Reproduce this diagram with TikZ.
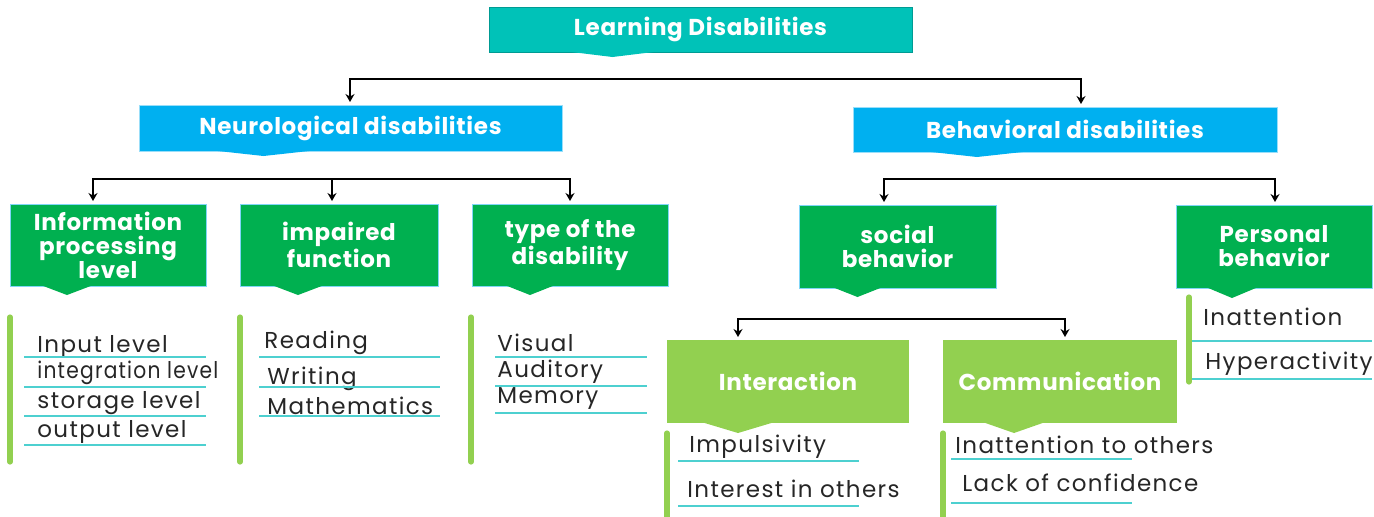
\documentclass[tikz,border=0pt]{standalone}
\usepackage{fontspec}
\setmainfont{Poppins}
\usetikzlibrary{arrows.meta, positioning, calc}

\definecolor{learnteal}{RGB}{0,194,184}
\definecolor{branchblue}{RGB}{0,176,240}
\definecolor{groupgreen}{RGB}{0,176,80}
\definecolor{subgreen}{RGB}{146,208,80}
\definecolor{ruleline}{RGB}{77,208,208}
\definecolor{itemgrey}{RGB}{38,38,38}

% pointer under a box: node, apex offset, half width, depth, colour
\newcommand{\boxtip}[5]{%
  \fill[#5] ($(#1.south)+(#2-#3,-0.5)$) -- ($(#1.south)+(#2,#4)$) -- ($(#1.south)+(#2+#3,-0.5)$) -- cycle;}

\begin{document}
\begin{tikzpicture}[x=0.5pt, y=-0.5pt]
    % --- Style Definitions ---
    \tikzset{
        box text/.style={
            text=white,
            font=\bfseries\fontsize{11.5}{12}\selectfont\addfontfeature{LetterSpace=3},
            align=center,
            inner sep=0pt,
            outer sep=0pt
        },
        title box/.style={box text, fill=learnteal, draw=learnteal!80!black, thin},
        branch box/.style={box text, fill=branchblue, draw=cyan!40, thin},
        group box/.style={box text, fill=groupgreen, draw=cyan!50, thin},
        sub box/.style={box text, fill=subgreen},
        item text/.style={
            anchor=base west,
            inner sep=0pt,
            text=itemgrey,
            font=\fontsize{11.5}{12}\selectfont\addfontfeature{LetterSpace=6}
        },
        item rule/.style={draw=ruleline, line width=0.8pt},
        side bar/.style={draw=subgreen, line width=2.6pt, line cap=round},
        link line/.style={
            draw=black,
            line width=1pt,
            >={Stealth[length=4pt, width=4.5pt]},
            shorten <=1.5pt,
            shorten >=1.5pt
        }
    }

    \useasboundingbox (0,0) rectangle (1374,516);

    % ==========================================
    % BOXES
    % ==========================================
    \node[title box, minimum width=211.5pt, minimum height=22.5pt] (learn_box) at (700.5,29.5) {Learning Disabilities};

    \node[branch box, minimum width=211.5pt, minimum height=23pt] (neuro_box) at (350.5,128) {Neurological disabilities};
    \node[branch box, minimum width=212pt, minimum height=22.5pt] (behav_box) at (1065,129.5) {Behavioral disabilities};

    \node[group box, minimum width=98pt, minimum height=41pt] (info_box) at (108,245) {Information\\processing\\level};
    \node[group box, minimum width=99pt, minimum height=41pt] (impaired_box) at (339,245) {impaired\\function};
    \node[group box, minimum width=98pt, minimum height=41pt] (type_box) at (570,245) {type of the\\disability};
    \node[group box, minimum width=98.5pt, minimum height=41.5pt] (social_box) at (897.5,246.5) {social\\behavior};
    \node[group box, minimum width=98pt, minimum height=41.5pt] (personal_box) at (1274,246.5) {Personal\\behavior};

    \node[sub box, minimum width=121pt, minimum height=41.5pt] (interact_box) at (788,381.5) {Interaction};
    \node[sub box, minimum width=117pt, minimum height=41.5pt] (commun_box) at (1060,381.5) {Communication};

    % pointers
    \boxtip{learn_box}{-88}{45}{5}{learnteal}
    \boxtip{neuro_box}{-87}{50}{5}{branchblue}
    \boxtip{behav_box}{-88}{50}{5}{branchblue}
    \boxtip{info_box}{-41}{25}{9}{groupgreen}
    \boxtip{impaired_box}{-41}{25}{9}{groupgreen}
    \boxtip{type_box}{-40}{24}{9}{groupgreen}
    \boxtip{social_box}{-40}{24}{9}{groupgreen}
    \boxtip{personal_box}{-42}{25}{10}{groupgreen}
    \boxtip{interact_box}{-50}{35}{10}{subgreen}
    \boxtip{commun_box}{-46}{30}{10}{subgreen}

    % ==========================================
    % CONNECTORS
    % ==========================================
    \coordinate (top_bus_l) at (350,79);
    \coordinate (top_bus_r) at (1081,79);
    \draw[link line, <->] (top_bus_l |- neuro_box.north) -- (top_bus_l) -- (top_bus_r) -- (top_bus_r |- behav_box.north);

    \coordinate (neuro_bus_l) at (93,179);
    \coordinate (neuro_bus_m) at (332,179);
    \coordinate (neuro_bus_r) at (570,179);
    \draw[link line, <->] (neuro_bus_l |- info_box.north) -- (neuro_bus_l) -- (neuro_bus_r) -- (neuro_bus_r |- type_box.north);
    \draw[link line, shorten <=0pt, ->] (neuro_bus_m) -- (neuro_bus_m |- impaired_box.north);

    \coordinate (behav_bus_l) at (884,179);
    \coordinate (behav_bus_r) at (1275,179);
    \draw[link line, <->] (behav_bus_l |- social_box.north) -- (behav_bus_l) -- (behav_bus_r) -- (behav_bus_r |- personal_box.north);

    \coordinate (social_bus_l) at (738,319);
    \coordinate (social_bus_r) at (1065,319);
    \draw[link line, <->] (social_bus_l |- interact_box.north) -- (social_bus_l) -- (social_bus_r) -- (social_bus_r |- commun_box.north);

    % ==========================================
    % LISTS
    % ==========================================
    % Information processing level
    \draw[side bar] (10,317) -- (10,462);
    \node[item text] (info_item_1) at (37,352) {Input level};
    \node[item text] (info_item_2) at (37,378) {\scalebox{0.88}[1]{integration level}};
    \node[item text] (info_item_3) at (37,408) {storage level};
    \node[item text] (info_item_4) at (37,437) {output level};
    \foreach \y in {357,387,416,445} \draw[item rule] (24,\y) -- (206,\y);

    % impaired function
    \draw[side bar] (240,317) -- (240,462);
    \node[item text] (impaired_item_1) at (264,348) {Reading};
    \node[item text] (impaired_item_2) at (267,384) {Writing};
    \node[item text] (impaired_item_3) at (267,414) {Mathematics};
    \foreach \y in {357,387,416} \draw[item rule] (259,\y) -- (440,\y);

    % type of the disability
    \draw[side bar] (471,317) -- (471,462);
    \node[item text] (type_item_1) at (497,351) {Visual};
    \node[item text] (type_item_2) at (497,377) {Auditory};
    \node[item text] (type_item_3) at (497,403) {Memory};
    \foreach \y in {357,386,413} \draw[item rule] (495,\y) -- (647,\y);

    % Interaction
    \draw[side bar] (667,433) -- (667,520);
    \node[item text] (interact_item_1) at (689,452) {Impulsivity};
    \node[item text] (interact_item_2) at (687,497) {Interest in others};
    \foreach \y in {461,506} \draw[item rule] (678,\y) -- (859,\y);

    % Communication
    \draw[side bar] (943,433) -- (943,520);
    \node[item text] (commun_item_1) at (955,453) {Inattention to others};
    \node[item text] (commun_item_2) at (962,491) {Lack of confidence};
    \foreach \y in {459,503} \draw[item rule] (951,\y) -- (1132,\y);

    % Personal behavior
    \draw[side bar] (1189,297) -- (1189,382);
    \node[item text] (personal_item_1) at (1203,325) {Inattention};
    \node[item text] (personal_item_2) at (1205,369) {Hyperactivity};
    \foreach \y in {341,379} \draw[item rule] (1192,\y) -- (1372,\y);

\end{tikzpicture}
\end{document}
